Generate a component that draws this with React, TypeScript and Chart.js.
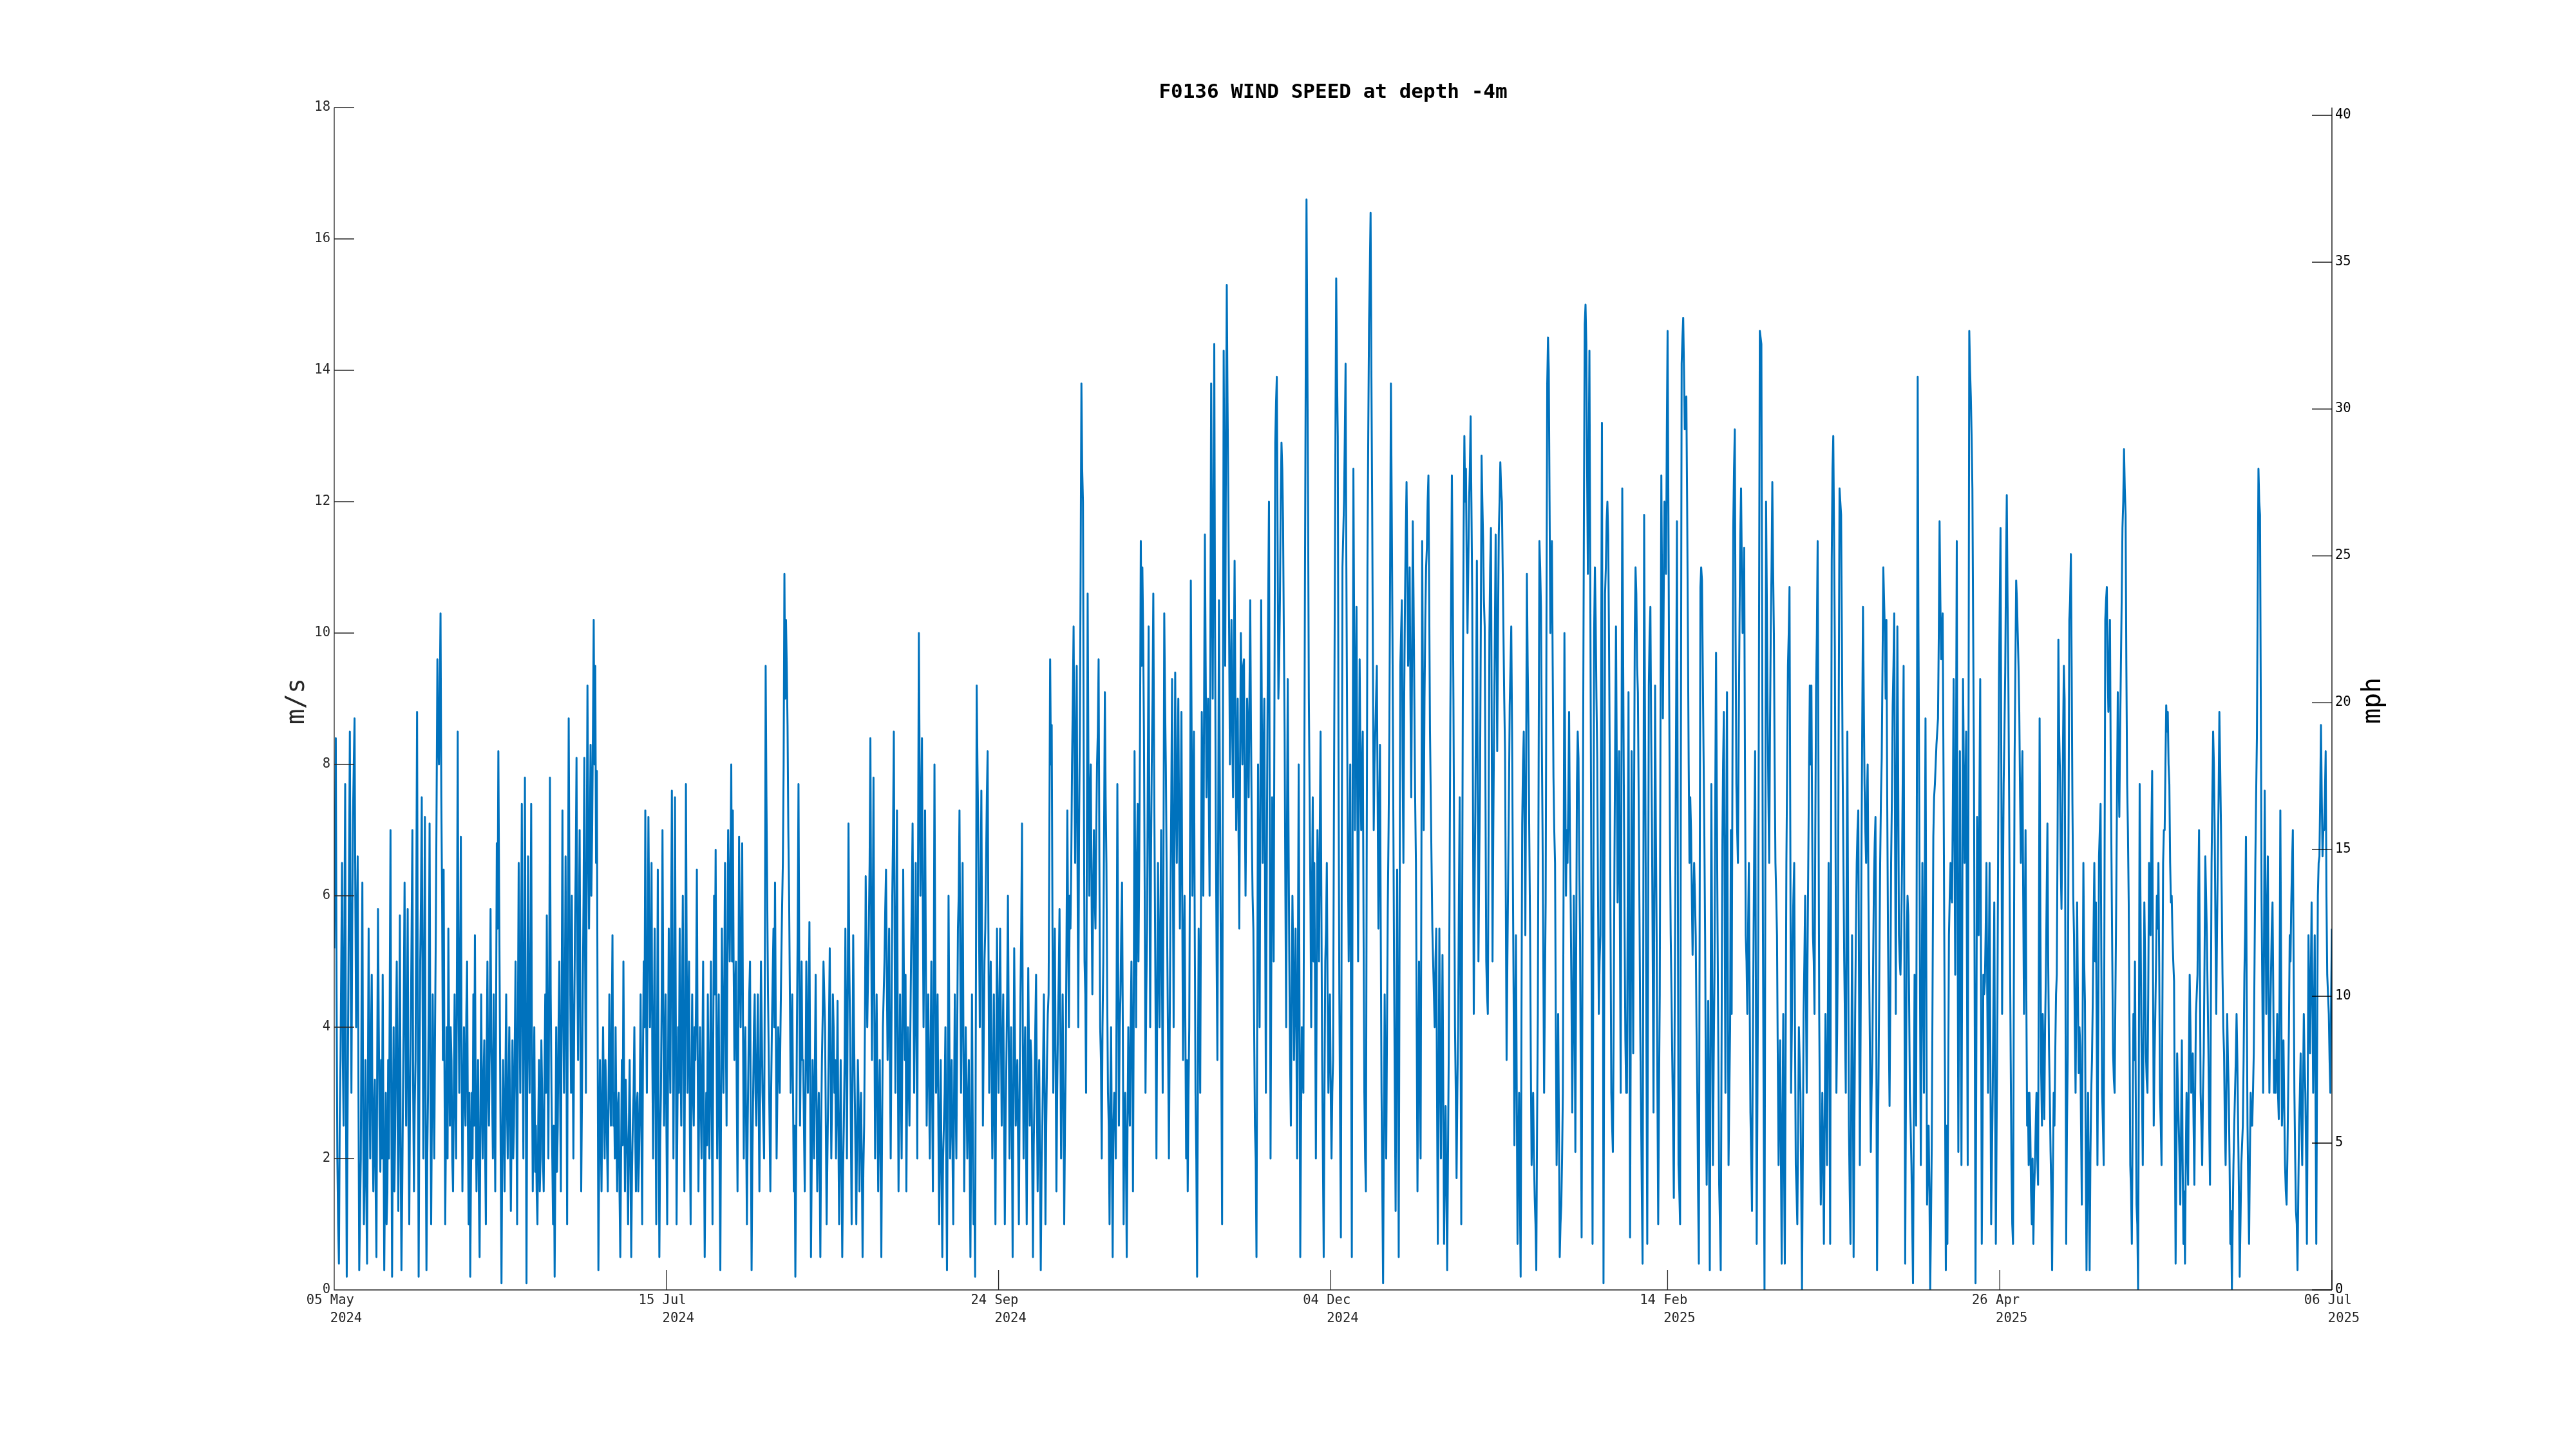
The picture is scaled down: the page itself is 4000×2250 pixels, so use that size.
import React, { useEffect, useRef } from 'react';
import { Chart, registerables } from 'chart.js';

Chart.register(...registerables);

const TITLE = 'F0136 WIND SPEED at depth -4m';
const Y_LABEL = 'm/s';
const Y2_LABEL = 'mph';
const TOTAL_DAYS = 427; // 05 May 2024 -> 06 Jul 2025
const X_TICK_DAYS = [0, 71, 142, 213, 285, 356, 427];
const X_TICK_LABELS = [
  ['05 May ', '   2024'],
  ['15 Jul ', '   2024'],
  ['24 Sep ', '   2024'],
  ['04 Dec ', '   2024'],
  ['14 Feb ', '   2025'],
  ['26 Apr ', '   2025'],
  ['06 Jul ', '   2025'],
];
const Y_TICKS = [0, 2, 4, 6, 8, 10, 12, 14, 16, 18];
const Y2_TICKS = [0, 5, 10, 15, 20, 25, 30, 35, 40];
const MPH_PER_MS = 1 / 0.44704;

// wind speed (m/s). Each block: start day, readings every 8 h (00/08/16 h),
// and the readings 4 h later (04/12/20 h).
const mayJunStart = 0;
const mayJun = [
  5.2, 8.4, 2.0, 0.4, 3.5, 6.5, 2.5, 7.7, 0.2, 4.5, 8.5, 3.0, 7.2, 8.7, 4.0,
  6.6, 0.3, 2.0, 6.2, 1.0, 3.5, 0.4, 5.5, 2.0, 4.8, 1.5, 3.2, 0.5, 5.8, 2.5,
  3.5, 4.8, 0.3, 3.0, 1.5, 2.0, 7.0, 0.2, 4.0, 2.5, 5.0, 1.2, 5.7, 0.3, 3.0,
  6.2, 2.5, 5.8, 1.0, 4.0, 7.0, 1.5, 3.5, 8.8, 0.2, 5.0, 7.5, 2.0, 7.2, 0.3,
  3.0, 7.1, 1.0, 4.5, 2.0, 5.5, 9.6, 8.0, 10.3, 6.0, 6.4, 1.0, 4.0, 5.5, 2.5,
  3.5, 1.5, 4.5, 2.0, 8.5, 3.0, 6.9, 1.5, 4.0, 2.5, 5.0, 1.0, 0.2, 3.0, 4.5,
  5.4, 1.5, 3.5, 0.5, 4.5, 2.0, 3.8, 1.0, 5.0, 2.5, 5.8, 3.0, 4.5, 1.5, 6.8,
  8.2, 4.0, 0.1, 3.5, 1.5, 4.5, 2.0, 4.0, 1.2, 3.8, 2.5, 5.0, 1.0, 6.5, 3.0,
  7.4, 2.0, 7.8, 0.1, 6.6, 3.0, 7.4, 1.5, 4.0, 2.5, 1.0, 3.5, 2.0, 3.0, 1.5,
  4.5, 5.7, 2.0, 7.8, 3.0, 1.0, 0.2, 4.0, 2.5, 5.0, 1.5, 7.3, 3.0, 6.6, 1.0,
];
const mayJunMid = [
  7.0, 4.5, 1.0, 2.5, 5.0, 3.5, 5.5, 3.0, 2.5, 6.5, 5.0, 5.5, 8.0, 6.0, 5.5,
  3.0, 1.2, 4.5, 2.5, 2.2, 1.5, 3.0, 3.5, 3.8, 2.5, 2.8, 1.5, 3.5, 4.0, 1.8,
  2.0, 2.5, 1.8, 1.0, 3.5, 4.5, 3.0, 2.5, 1.5, 4.0, 2.8, 3.5, 2.0, 1.5, 4.5,
  4.0, 4.2, 2.5, 3.0, 5.5, 3.0, 2.8, 6.0, 4.0, 3.0, 6.0, 4.5, 4.8, 2.5, 2.0,
  4.5, 3.5, 2.8, 3.0, 4.0, 7.5, 8.5, 9.0, 7.5, 3.5, 3.5, 2.5, 2.0, 3.8, 4.0,
  2.0, 3.0, 2.8, 5.0, 4.5, 4.8, 3.5, 2.8, 3.0, 4.2, 2.5, 3.0, 1.8, 2.0, 2.5,
  3.0, 2.8, 1.5, 2.5, 3.0, 3.2, 2.2, 3.5, 3.0, 4.0, 3.8, 2.0, 3.0, 4.0, 5.5,
  6.0, 2.0, 2.2, 2.5, 3.2, 2.8, 3.0, 2.5, 2.6, 2.0, 3.8, 3.0, 4.0, 4.5, 5.0,
  4.0, 5.0, 3.5, 3.5, 4.0, 5.0, 3.5, 3.0, 1.8, 1.5, 2.5, 1.5, 3.8, 2.0, 3.2,
  3.0, 3.5, 4.5, 4.5, 2.0, 2.5, 2.0, 1.8, 4.0, 3.0, 4.5, 4.5, 4.2, 4.0, 5.5,
];
const julAugStart = 50;
const julAug = [
  8.7, 4.5, 6.0, 2.0, 5.5, 8.1, 3.5, 7.0, 1.5, 4.5, 8.1, 3.0, 9.2, 5.5, 8.3,
  7.0, 10.2, 9.5, 7.9, 0.3, 3.5, 1.5, 4.0, 2.0, 3.0, 1.5, 4.5, 2.5, 5.4, 3.0,
  4.0, 1.5, 3.0, 0.5, 3.5, 5.0, 1.5, 2.5, 1.0, 3.5, 0.5, 2.5, 4.0, 1.5, 3.0,
  2.0, 4.5, 1.0, 5.0, 7.3, 3.0, 7.2, 4.0, 6.5, 2.0, 5.5, 1.0, 6.4, 0.5, 3.0,
  7.0, 2.5, 4.5, 1.0, 5.5, 3.0, 7.6, 2.0, 7.5, 1.0, 4.0, 5.5, 2.5, 6.0, 1.5,
  7.7, 3.0, 5.0, 1.0, 4.5, 2.5, 3.5, 6.4, 1.5, 4.0, 2.0, 5.0, 0.5, 3.0, 4.5,
  2.0, 5.0, 1.0, 6.0, 6.7, 2.0, 4.5, 0.3, 5.5, 3.0, 6.5, 2.5, 7.0, 5.0, 8.0,
  7.3, 3.5, 5.0, 1.5, 6.9, 4.0, 6.8, 2.0, 4.0, 1.0, 3.5, 5.0, 0.3, 3.0, 4.5,
  2.5, 4.5, 1.5, 5.0, 3.0, 2.0, 9.5, 6.0, 3.5, 1.5, 4.0, 5.5, 6.2, 2.0, 4.0,
  3.0, 5.0, 6.5, 10.9, 10.2, 8.6, 6.0, 3.0, 4.5, 1.5, 0.2, 4.0, 7.7, 2.5, 5.0,
  3.5, 1.5, 5.0, 3.0, 5.6, 0.5, 3.5, 2.0, 4.8, 1.5, 3.0, 0.5, 3.5, 5.0, 4.0,
  1.0, 3.0, 5.2, 2.0, 4.5, 3.0,
];
const julAugMid = [
  6.0, 3.0, 3.8, 4.0, 6.5, 5.0, 5.5, 4.0, 3.0, 6.0, 5.0, 6.5, 7.0, 6.8, 6.0,
  8.5, 8.0, 6.5, 4.0, 2.0, 2.5, 3.0, 2.8, 3.5, 2.2, 3.0, 3.2, 4.0, 2.5, 2.0,
  2.5, 2.8, 1.5, 2.0, 2.2, 3.0, 3.2, 2.0, 2.5, 2.0, 1.8, 3.0, 2.5, 2.8, 1.5,
  3.0, 2.5, 3.5, 4.0, 4.5, 5.0, 5.5, 5.0, 3.5, 4.0, 3.0, 3.5, 3.0, 2.2, 4.5,
  4.5, 3.5, 2.5, 3.0, 4.0, 5.5, 4.5, 4.0, 4.2, 2.5, 3.0, 3.8, 4.5, 3.5, 4.0,
  5.0, 4.2, 2.5, 3.2, 3.0, 4.0, 4.5, 3.5, 3.0, 2.8, 3.5, 2.5, 2.0, 2.2, 3.0,
  3.5, 2.8, 4.0, 4.5, 4.0, 3.5, 2.0, 3.0, 4.0, 4.5, 4.0, 5.0, 6.0, 6.5, 5.0,
  5.0, 4.5, 3.0, 4.0, 5.0, 5.5, 4.0, 3.5, 2.5, 2.5, 4.5, 2.5, 2.0, 4.0, 3.0,
  3.5, 3.0, 3.2, 4.0, 2.5, 5.0, 7.5, 4.5, 2.5, 3.0, 4.8, 4.0, 4.0, 3.0, 3.5,
  4.0, 5.8, 8.0, 9.0, 9.5, 7.0, 4.5, 3.8, 3.0, 2.5, 2.0, 5.5, 5.0, 3.8, 3.5,
  2.5, 3.0, 4.0, 4.2, 3.0, 2.0, 2.8, 3.5, 3.0, 2.2, 2.0, 2.5, 4.2, 4.5, 2.5,
  2.0, 4.0, 3.5, 3.0, 4.0, 3.5,
];
const sepOctStart = 107;
const sepOct = [
  2.0, 4.4, 1.0, 3.5, 0.5, 2.5, 5.5, 2.0, 7.1, 4.0, 1.0, 5.4, 3.0, 1.0, 3.5,
  1.5, 3.0, 0.5, 2.5, 6.3, 4.0, 5.5, 8.4, 3.5, 7.8, 2.0, 4.5, 1.5, 3.5, 0.5,
  4.0, 5.0, 6.4, 3.5, 5.5, 2.0, 6.0, 8.5, 3.0, 7.3, 1.5, 4.5, 2.0, 6.4, 3.5,
  1.5, 4.0, 2.5, 5.0, 7.1, 3.0, 6.5, 2.0, 10.0, 6.0, 8.4, 4.0, 7.3, 2.5, 4.5,
  2.0, 5.0, 1.5, 8.0, 3.0, 4.5, 1.0, 3.5, 0.5, 2.5, 4.0, 0.3, 6.0, 2.0, 3.5,
  1.0, 4.5, 2.0, 5.5, 7.3, 3.0, 6.5, 1.5, 4.0, 2.0, 3.5, 0.5, 4.5, 1.0, 0.2,
  9.2, 7.0, 4.0, 7.6, 2.5, 5.0, 6.5, 8.2, 3.0, 5.0, 2.0, 4.5, 1.0, 5.5, 3.0,
  5.5, 2.5, 4.5, 1.0, 3.5, 6.0, 2.0, 4.0, 0.5, 5.2, 2.5, 3.5, 1.0, 4.5, 7.1,
  2.0, 4.0, 1.0, 4.9, 2.5, 3.5, 0.5, 3.0, 4.8, 1.5, 3.5, 0.3, 2.5, 4.5, 1.0,
  3.5, 4.5, 9.6, 8.6, 3.0, 5.5, 1.5, 4.0, 5.8, 2.0, 4.5, 1.0, 3.5, 7.3, 4.0,
];
const sepOctMid = [
  3.0, 2.5, 2.2, 2.0, 1.8, 3.5, 3.8, 4.5, 5.0, 2.5, 3.0, 4.0, 2.0, 2.5, 2.8,
  2.5, 2.0, 1.8, 4.0, 5.0, 4.8, 6.5, 5.5, 5.5, 4.5, 3.2, 3.0, 2.8, 2.0, 2.5,
  4.5, 5.8, 4.8, 4.5, 3.5, 4.0, 7.0, 5.5, 5.0, 4.0, 3.0, 3.2, 4.0, 4.5, 4.8,
  3.0, 3.2, 3.8, 6.0, 5.0, 4.5, 4.0, 6.5, 8.0, 7.0, 6.0, 5.5, 5.0, 3.5, 3.2,
  3.5, 3.0, 4.5, 5.0, 3.5, 2.5, 2.5, 1.8, 2.0, 3.0, 2.0, 3.0, 4.0, 2.8, 2.2,
  2.8, 3.0, 3.8, 6.0, 5.0, 4.5, 4.0, 2.8, 3.0, 2.8, 2.0, 2.5, 2.5, 1.5, 4.5,
  8.0, 5.5, 6.0, 5.0, 3.8, 5.5, 7.5, 5.5, 4.0, 3.5, 3.0, 2.5, 3.5, 4.0, 4.2,
  4.0, 3.5, 2.8, 2.5, 4.5, 4.0, 3.0, 2.5, 3.0, 3.8, 3.0, 2.2, 3.0, 5.5, 4.0,
  3.2, 2.5, 3.0, 3.5, 3.8, 2.0, 2.2, 4.0, 3.0, 2.8, 2.0, 1.8, 3.5, 3.0, 2.5,
  4.2, 7.0, 8.0, 5.5, 4.5, 3.5, 3.0, 4.8, 4.0, 3.2, 3.0, 2.5, 5.5, 5.5, 6.0,
];
const octDecStart = 157;
const octDec = [
  5.5, 8.0, 10.1, 6.5, 9.5, 4.0, 8.5, 13.8, 12.0, 5.0, 3.0, 10.6, 6.0, 8.0, 4.5,
  7.0, 5.5, 8.0, 9.6, 4.0, 2.0, 5.0, 9.1, 6.5, 3.0, 1.0, 4.0, 0.5, 3.0, 2.0,
  7.7, 2.5, 4.5, 6.2, 1.0, 3.0, 0.5, 4.0, 2.5, 5.0, 1.5, 8.2, 4.0, 7.4, 6.5,
  11.4, 11.0, 8.5, 3.0, 5.5, 10.1, 4.0, 8.0, 10.6, 6.0, 2.0, 6.5, 4.0, 7.0, 3.0,
  10.3, 8.0, 5.0, 2.0, 6.0, 9.3, 4.0, 9.4, 6.5, 9.0, 5.5, 8.8, 3.5, 6.0, 2.0,
  1.5, 4.0, 10.8, 6.0, 8.5, 3.0, 0.2, 5.5, 3.0, 8.8, 6.0, 11.5, 7.5, 9.0, 6.0,
  13.8, 9.0, 14.4, 7.0, 3.5, 10.5, 6.0, 1.0, 14.3, 9.5, 15.3, 12.0, 8.0, 10.2, 7.5,
  11.1, 7.0, 9.0, 5.5, 10.0, 8.0, 9.6, 6.0, 9.0, 7.5, 10.5, 7.0, 5.5, 2.5, 0.5,
  8.0, 4.0, 10.5, 6.5, 9.0, 3.0, 8.5, 12.0, 2.0, 7.5, 5.0, 12.9, 13.9, 9.0, 10.5,
  12.9, 11.7, 8.5, 4.0, 9.3, 5.0, 2.5, 6.0, 3.5, 5.5, 2.0, 8.0, 0.5, 4.0, 3.0,
  10.7, 16.6, 12.0, 7.5, 4.0, 7.5, 6.5, 2.0, 7.0, 5.0, 8.5, 3.5, 0.5, 5.0, 6.5,
  3.0, 4.5, 2.0,
];
const octDecMid = [
  6.5, 9.0, 8.0, 8.5, 6.5, 7.0, 11.0, 12.5, 8.0, 4.5, 7.0, 8.0, 7.5, 6.0, 6.0,
  6.0, 7.0, 8.5, 6.5, 3.5, 4.0, 7.0, 7.5, 4.5, 2.5, 3.0, 2.0, 2.5, 2.8, 4.5,
  5.0, 4.0, 5.5, 4.0, 2.5, 2.0, 2.5, 3.0, 4.0, 3.5, 4.5, 6.0, 6.5, 5.0, 8.5,
  9.5, 10.0, 6.0, 4.5, 8.0, 7.0, 6.5, 9.0, 8.0, 4.0, 4.5, 5.0, 5.5, 5.0, 6.5,
  9.0, 6.5, 3.5, 4.0, 7.5, 6.5, 7.0, 7.5, 8.0, 7.0, 7.0, 6.0, 5.0, 4.0, 3.5,
  3.0, 7.0, 8.5, 7.5, 5.5, 2.0, 3.0, 4.5, 6.0, 7.5, 9.0, 9.5, 8.5, 7.5, 10.0,
  11.0, 12.0, 10.0, 5.0, 7.0, 8.0, 3.5, 8.0, 12.0, 13.0, 13.5, 10.0, 9.0, 8.5, 9.5,
  9.0, 8.0, 7.0, 8.0, 9.0, 9.5, 7.5, 7.5, 8.5, 9.0, 8.5, 6.0, 4.0, 2.0, 4.5,
  6.0, 7.5, 8.5, 8.0, 6.0, 6.0, 10.5, 7.0, 5.0, 6.5, 9.0, 13.5, 11.5, 9.5, 12.0,
  12.5, 10.0, 6.0, 7.0, 7.0, 3.5, 4.5, 5.0, 4.5, 4.0, 5.0, 4.5, 2.5, 3.5, 7.0,
  14.0, 14.5, 9.0, 6.0, 6.0, 5.0, 4.5, 4.5, 6.0, 7.0, 6.0, 2.0, 3.0, 5.5, 4.5,
  4.0, 3.0, 3.0,
];
const decJanStart = 213;
const decJan = [
  3.5, 10.0, 15.4, 13.0, 4.5, 0.8, 11.0, 12.0, 14.1, 8.5, 5.0, 8.0, 0.5, 12.5, 7.0,
  10.4, 5.0, 9.6, 7.0, 8.5, 3.0, 1.5, 11.0, 14.7, 16.4, 12.0, 7.0, 8.5, 9.5, 5.5,
  8.3, 3.0, 0.1, 4.5, 2.0, 5.8, 8.5, 13.8, 10.0, 5.0, 1.2, 6.4, 0.5, 9.5, 10.5,
  6.5, 10.5, 12.3, 9.5, 11.0, 7.5, 11.7, 9.0, 6.5, 1.5, 5.0, 2.0, 11.4, 7.0, 10.2,
  11.3, 12.4, 8.5, 6.5, 5.0, 4.0, 5.5, 0.7, 5.5, 2.0, 5.1, 0.7, 2.8, 0.3, 3.6,
  8.7, 12.4, 9.0, 4.0, 1.7, 4.0, 7.5, 1.0, 9.0, 13.0, 12.5, 10.0, 12.0, 13.3, 10.6,
  4.2, 7.3, 11.1, 5.0, 7.7, 12.7, 11.4, 10.1, 5.0, 4.2, 10.0, 11.6, 5.0, 8.6, 11.5,
  8.2, 11.5, 12.6, 12.0, 10.0, 8.2, 3.5, 6.3, 8.9, 10.1, 6.4, 2.2, 5.4, 0.7, 3.0,
  0.2, 7.1, 8.5, 5.4, 10.9, 8.6, 5.6, 1.9, 3.0, 1.4, 0.3, 4.2, 11.4, 10.4, 7.0,
  3.0, 5.9, 13.8, 14.0, 10.0, 11.4, 7.8, 6.5, 1.9, 4.2, 0.5, 1.3, 3.0, 10.0, 6.0,
];
const decJanMid = [
  7.0, 13.0, 14.0, 8.0, 2.5, 6.0, 11.5, 13.0, 11.0, 6.5, 6.5, 4.0, 7.0, 10.0, 9.0,
  7.5, 7.5, 8.0, 8.0, 5.5, 2.0, 6.5, 13.0, 15.5, 14.0, 9.5, 8.0, 9.0, 7.5, 7.0,
  5.5, 1.5, 2.5, 3.0, 4.0, 7.0, 11.0, 12.0, 7.5, 3.0, 4.0, 3.5, 5.0, 10.0, 8.0,
  9.0, 11.5, 11.0, 10.0, 9.0, 9.5, 10.5, 7.5, 4.0, 3.5, 3.0, 6.5, 9.0, 9.0, 11.0,
  12.0, 10.5, 7.5, 5.5, 4.5, 5.0, 3.0, 3.0, 3.5, 3.5, 3.0, 2.0, 1.5, 2.0, 6.0,
  10.5, 11.0, 6.5, 3.0, 3.0, 6.0, 4.5, 5.0, 11.5, 12.0, 11.0, 11.0, 12.5, 12.0, 7.5,
  6.0, 9.0, 8.0, 6.5, 10.0, 12.0, 10.5, 7.5, 4.5, 7.0, 11.0, 8.5, 7.0, 10.0, 10.0,
  10.0, 12.0, 12.2, 11.0, 9.0, 6.0, 5.0, 7.5, 9.5, 8.5, 4.5, 4.0, 3.0, 2.0, 1.5,
  4.0, 8.0, 7.0, 8.0, 9.5, 7.0, 3.5, 2.5, 2.0, 1.0, 2.5, 8.0, 11.0, 8.5, 5.0,
  4.5, 10.0, 14.5, 12.0, 11.0, 9.5, 7.0, 4.0, 3.0, 2.5, 1.0, 2.0, 6.5, 8.0, 7.0,
];
const janMarStart = 263;
const janMar = [
  6.5, 8.8, 5.9, 2.7, 6.0, 2.1, 7.7, 8.1, 5.4, 0.8, 8.6, 14.7, 14.4, 10.9, 14.3,
  7.7, 0.7, 10.0, 10.2, 8.1, 4.2, 5.4, 13.2, 0.1, 10.6, 11.7, 11.5, 8.1, 3.0, 2.1,
  6.5, 10.1, 5.9, 8.2, 3.0, 12.2, 7.7, 3.8, 3.0, 9.1, 0.8, 8.2, 3.6, 10.0, 10.6,
  9.1, 5.8, 2.8, 0.4, 11.8, 6.5, 0.7, 9.2, 10.4, 7.1, 2.7, 9.2, 5.4, 1.0, 4.5,
  12.4, 8.7, 12.0, 10.9, 14.6, 9.2, 5.4, 3.5, 1.4, 6.5, 11.7, 1.9, 1.0, 14.1, 14.8,
  13.1, 13.6, 10.0, 6.5, 7.0, 5.1, 6.5, 5.4, 3.0, 0.4, 10.7, 10.8, 8.2, 5.4, 1.6,
  4.4, 0.3, 7.7, 1.9, 4.8, 9.7, 5.4, 1.6, 0.3, 6.7, 8.8, 3.0, 9.1, 1.9, 4.0,
  4.2, 11.6, 13.1, 7.7, 6.5, 10.1, 12.2, 10.0, 11.3, 5.4, 4.2, 6.5, 2.7, 1.2, 5.4,
  8.2, 0.7, 5.4, 14.6, 14.4, 5.4, 0.0, 12.0, 8.8, 6.5, 10.0, 12.3, 10.0, 6.5, 5.4,
  1.9, 3.8, 0.4, 4.2, 0.4, 6.5, 9.5, 10.7, 3.0, 5.4, 6.5, 1.9, 1.0, 4.0, 3.0,
  0.0, 4.2, 6.0, 3.0, 6.5, 9.2, 9.2, 5.4, 4.2, 9.2, 11.4, 4.2, 1.3, 3.0, 0.7,
  4.2, 1.9, 6.5,
];
const janMarMid = [
  7.5, 7.0, 4.5, 4.0, 4.5, 5.0, 8.5, 6.5, 3.0, 4.5, 12.0, 15.0, 12.5, 12.5, 11.0,
  4.0, 5.5, 11.0, 9.0, 6.0, 5.0, 9.5, 7.0, 5.0, 11.0, 12.0, 10.0, 5.5, 2.5, 4.0,
  8.5, 8.0, 7.0, 5.5, 8.0, 10.0, 5.5, 3.0, 6.0, 5.0, 4.5, 6.0, 7.0, 11.0, 9.5,
  7.5, 4.0, 1.5, 6.0, 9.0, 3.5, 5.0, 10.0, 8.5, 5.0, 6.0, 7.0, 3.0, 3.0, 9.0,
  10.5, 10.5, 11.5, 13.0, 12.0, 7.0, 4.5, 2.5, 4.0, 9.0, 7.0, 1.5, 8.0, 14.5, 14.0,
  13.5, 12.0, 8.0, 7.5, 6.0, 6.0, 6.0, 4.0, 1.5, 5.5, 11.0, 9.5, 7.0, 3.0, 3.0,
  2.0, 4.0, 5.0, 3.5, 7.5, 7.5, 3.5, 1.0, 3.5, 8.0, 6.0, 6.5, 5.0, 3.0, 7.0,
  8.0, 12.5, 10.0, 7.0, 8.5, 11.5, 11.0, 10.5, 8.0, 5.0, 5.5, 4.5, 2.0, 3.5, 7.0,
  4.5, 3.0, 10.0, 14.5, 10.0, 2.5, 6.0, 10.5, 7.5, 8.5, 11.0, 11.0, 8.0, 6.0, 3.5,
  3.0, 2.0, 2.5, 2.0, 3.5, 8.0, 10.0, 7.0, 4.0, 6.0, 4.0, 1.5, 2.5, 3.5, 1.5,
  2.0, 5.0, 4.5, 5.0, 8.0, 8.0, 7.0, 5.0, 7.0, 10.0, 8.0, 2.5, 2.0, 2.0, 2.5,
  3.0, 4.0, 4.0,
];
const marMayStart = 319;
const marMay = [
  0.7, 11.1, 13.0, 9.8, 3.0, 5.4, 12.2, 11.8, 7.9, 5.0, 3.0, 8.5, 2.5, 0.7, 5.4,
  0.5, 4.2, 6.5, 7.3, 1.9, 6.5, 10.4, 7.7, 6.5, 8.0, 4.8, 2.1, 3.6, 6.2, 7.2,
  0.3, 3.4, 6.5, 8.1, 11.0, 10.0, 10.2, 5.4, 2.8, 6.5, 8.9, 10.3, 4.2, 10.1, 5.4,
  4.8, 6.5, 9.5, 0.4, 5.4, 5.7, 3.0, 1.9, 0.1, 4.8, 2.5, 13.9, 7.4, 1.9, 6.5,
  3.0, 8.7, 1.3, 2.5, 0.0, 2.2, 6.9, 7.7, 8.3, 8.7, 11.7, 9.6, 10.3, 5.4, 0.3,
  0.7, 5.4, 6.5, 5.9, 9.3, 4.8, 11.4, 2.1, 8.2, 1.9, 9.3, 6.5, 8.5, 1.9, 14.6,
  13.6, 12.2, 7.9, 0.1, 7.2, 5.4, 9.3, 0.7, 4.8, 4.7, 6.5, 3.0, 6.5, 1.0, 3.0,
  5.9, 0.7, 4.2, 9.3, 11.6, 4.2, 7.7, 9.4, 12.1, 9.3, 5.4, 1.9, 0.7, 8.1, 10.8,
  10.0, 8.8, 6.5, 8.2, 4.2, 7.0, 2.5, 1.9, 2.5, 1.0, 0.7, 1.9, 3.0, 1.6, 8.7,
  3.3, 4.2, 2.6, 4.8, 7.1, 3.7, 2.1, 0.3, 3.0, 3.6, 4.8, 9.9, 7.9, 5.8, 8.4,
];
const marMayMid = [
  6.0, 12.5, 11.5, 6.5, 4.0, 9.0, 12.0, 10.0, 6.5, 4.0, 6.0, 5.5, 1.5, 3.0, 3.5,
  2.5, 5.5, 7.0, 4.5, 4.0, 8.5, 9.0, 7.0, 7.5, 6.0, 3.5, 3.0, 5.0, 6.8, 4.0,
  2.0, 5.0, 7.5, 9.5, 10.5, 9.0, 7.5, 4.0, 4.5, 7.5, 9.5, 7.0, 7.5, 8.0, 5.0,
  5.5, 8.0, 5.0, 3.0, 6.0, 4.5, 2.5, 1.0, 2.5, 3.5, 8.0, 10.0, 4.5, 4.0, 5.0,
  6.0, 5.0, 2.0, 1.5, 1.0, 4.5, 7.5, 8.0, 8.5, 10.0, 10.5, 10.0, 8.0, 3.0, 2.5,
  3.0, 6.0, 6.0, 7.5, 7.0, 8.0, 6.0, 5.0, 5.0, 5.5, 8.0, 7.5, 5.0, 8.0, 14.0,
  13.0, 10.0, 4.0, 3.5, 6.5, 7.5, 5.0, 2.5, 4.5, 5.5, 4.5, 5.0, 3.5, 2.0, 4.5,
  3.0, 2.5, 7.0, 10.5, 8.0, 6.0, 8.5, 11.0, 10.5, 7.5, 3.5, 1.0, 4.5, 9.5, 10.5,
  9.5, 7.5, 7.5, 6.0, 5.5, 4.5, 3.0, 3.0, 1.5, 2.0, 1.5, 2.5, 2.0, 5.0, 5.5,
  2.5, 3.5, 4.0, 6.0, 5.0, 3.0, 1.5, 1.8, 2.5, 4.5, 7.0, 8.5, 6.5, 7.0, 9.5,
];
const mayJulStart = 369;
const mayJul = [
  9.0, 0.7, 3.6, 10.2, 11.2, 7.4, 5.4, 3.0, 5.9, 3.3, 3.7, 1.3, 6.5, 4.4, 0.3,
  3.0, 0.3, 3.0, 4.4, 6.5, 5.9, 1.9, 6.6, 7.4, 3.0, 1.9, 10.2, 10.7, 8.8, 10.2,
  6.5, 3.6, 3.0, 5.9, 9.1, 7.2, 9.5, 11.6, 12.8, 11.8, 7.7, 5.9, 1.9, 0.7, 4.2,
  5.0, 1.3, 0.0, 7.7, 4.2, 1.9, 5.9, 3.6, 3.0, 6.5, 5.4, 7.9, 2.5, 4.2, 6.0,
  6.5, 3.0, 1.9, 6.5, 7.0, 8.9, 8.8, 7.7, 5.9, 5.4, 4.7, 0.4, 3.6, 2.5, 1.3,
  3.8, 0.7, 0.4, 3.0, 1.6, 4.8, 3.0, 3.6, 1.6, 4.2, 4.8, 7.0, 3.0, 1.9, 3.6,
  6.6, 5.4, 3.6, 1.6, 6.5, 8.5, 7.0, 4.2, 6.5, 8.8, 7.1, 4.8, 3.6, 1.9, 4.2,
  3.0, 0.7, 0.0, 1.9, 3.0, 4.2, 2.5, 0.2, 1.9, 2.5, 4.8, 6.9, 2.5, 0.7, 3.0,
  2.5, 3.6, 6.5, 8.4, 12.5, 11.8, 5.9, 3.0, 7.6, 4.2, 6.6, 3.0, 4.8, 5.9, 3.0,
  3.0, 4.2, 2.6, 7.3, 2.5, 3.8, 1.9, 1.3, 3.0, 5.4, 5.9, 7.0, 3.0, 1.2, 0.3,
  2.5, 3.6, 1.9, 4.2, 3.0, 0.7, 5.4, 3.6, 5.9, 3.0, 5.4, 0.7, 6.0, 6.6, 8.6,
  6.6, 7.0, 8.2, 4.8, 4.2, 3.0, 5.5,
];
const mayJulMid = [
  5.0, 2.5, 7.0, 10.5, 9.5, 6.0, 4.0, 4.5, 4.5, 4.0, 2.5, 4.0, 5.0, 2.0, 2.0,
  1.5, 2.0, 3.5, 5.5, 5.0, 4.0, 4.0, 7.0, 5.0, 2.5, 6.0, 10.5, 9.5, 9.5, 8.0,
  5.0, 3.2, 4.5, 7.5, 8.0, 8.5, 10.5, 12.0, 12.2, 9.5, 7.0, 4.0, 1.5, 2.5, 3.5,
  3.0, 1.0, 3.5, 6.0, 3.0, 4.0, 5.0, 3.2, 4.5, 6.0, 7.0, 5.0, 3.5, 5.0, 5.5,
  5.0, 2.5, 4.0, 7.0, 8.0, 8.5, 8.0, 6.5, 6.0, 5.0, 2.5, 2.0, 3.0, 2.0, 2.5,
  2.0, 1.5, 2.0, 2.2, 3.5, 4.0, 3.2, 2.5, 3.0, 4.5, 6.0, 5.0, 2.5, 3.0, 5.0,
  6.0, 4.5, 2.5, 4.0, 7.5, 8.0, 5.5, 5.5, 7.5, 8.0, 6.0, 4.0, 2.5, 3.0, 3.5,
  2.0, 1.2, 1.0, 2.5, 3.5, 3.5, 1.5, 1.0, 2.2, 3.5, 5.5, 4.5, 1.5, 2.0, 2.5,
  3.0, 5.0, 7.5, 10.5, 12.0, 9.0, 4.5, 5.0, 6.0, 5.5, 4.5, 4.0, 5.5, 4.5, 3.5,
  3.5, 3.0, 4.5, 5.0, 3.0, 2.8, 1.5, 2.0, 4.0, 5.0, 6.5, 5.0, 2.0, 1.0, 1.5,
  3.0, 2.5, 3.0, 3.5, 2.0, 3.0, 4.5, 4.8, 4.5, 4.0, 3.0, 3.5, 6.5, 7.5, 7.5,
  7.0, 7.5, 6.0, 4.5, 3.5, 4.5,
];

const BLOCKS: [number, number[], number[]][] = [
  [mayJunStart, mayJun, mayJunMid],
  [julAugStart, julAug, julAugMid],
  [sepOctStart, sepOct, sepOctMid],
  [octDecStart, octDec, octDecMid],
  [decJanStart, decJan, decJanMid],
  [janMarStart, janMar, janMarMid],
  [marMayStart, marMay, marMayMid],
  [mayJulStart, mayJul, mayJulMid],
];

const DAY_SCALE = TOTAL_DAYS / 426;

function buildPoints() {
  const pts: { x: number; y: number }[] = [];
  for (const [start, vals, mids] of BLOCKS) {
    vals.forEach((v, i) => {
      pts.push({ x: Math.min(TOTAL_DAYS, (start + i / 3) * DAY_SCALE), y: v });
      if (i < mids.length) {
        pts.push({ x: Math.min(TOTAL_DAYS, (start + i / 3 + 1 / 6) * DAY_SCALE), y: mids[i] });
      }
    });
  }
  return pts;
}

const MONO = '"DejaVu Sans Mono", monospace';

const decorPlugin = {
  id: 'decor',
  afterDraw(chart: any) {
    const { ctx, chartArea: a, scales } = chart;
    const xs = scales.x;
    const ys = scales.y;
    const y2s = scales.y2;
    const TL = 31;
    ctx.save();
    ctx.lineWidth = 1.3;
    ctx.strokeStyle = '#262626';
    ctx.beginPath();
    ctx.moveTo(a.left, a.top);
    ctx.lineTo(a.left, a.bottom);
    ctx.lineTo(a.right, a.bottom);
    for (const t of Y_TICKS) {
      const p = ys.getPixelForValue(t);
      ctx.moveTo(a.left, p);
      ctx.lineTo(a.left + TL, p);
    }
    for (const t of X_TICK_DAYS) {
      const p = xs.getPixelForValue(t);
      ctx.moveTo(p, a.bottom);
      ctx.lineTo(p, a.bottom - TL);
    }
    ctx.stroke();
    ctx.strokeStyle = '#000';
    ctx.beginPath();
    ctx.moveTo(a.right, a.top);
    ctx.lineTo(a.right, a.bottom);
    for (const t of Y2_TICKS) {
      const p = y2s.getPixelForValue(t);
      ctx.moveTo(a.right, p);
      ctx.lineTo(a.right - TL, p);
    }
    ctx.stroke();

    ctx.fillStyle = '#000';
    ctx.font = 'bold 31px ' + MONO;
    ctx.textAlign = 'center';
    ctx.textBaseline = 'alphabetic';
    ctx.fillText(TITLE, (a.left + a.right) / 2, 152);

    ctx.font = '40px ' + MONO;
    ctx.fillStyle = '#262626';
    ctx.save();
    ctx.translate(472, (a.top + a.bottom) / 2 + 4);
    ctx.rotate(-Math.PI / 2);
    ctx.fillText(Y_LABEL, 0, 0);
    ctx.restore();
    ctx.fillStyle = '#000';
    ctx.save();
    ctx.translate(3696, (a.top + a.bottom) / 2 + 3);
    ctx.rotate(-Math.PI / 2);
    ctx.fillText(Y2_LABEL, 0, 0);
    ctx.restore();
    ctx.restore();
  },
};

export default function App() {
  const ref = useRef<HTMLCanvasElement | null>(null);
  useEffect(() => {
    if (!ref.current) return;
    const tickFont = { family: MONO, size: 20.5, lineHeight: 1.36 };
    const chart = new Chart(ref.current, {
      type: 'line',
      data: {
        datasets: [
          {
            data: buildPoints(),
            borderColor: '#0072BD',
            borderWidth: 3.0,
            borderJoinStyle: 'round',
            pointRadius: 0,
            tension: 0,
            fill: false,
          },
        ],
      },
      options: {
        responsive: false,
        animation: false,
        devicePixelRatio: 1,
        parsing: false,
        normalized: true,
        events: [],
        layout: { padding: { top: 167, left: 0, right: 0, bottom: 0 } },
        plugins: {
          legend: { display: false },
          title: { display: false },
          tooltip: { enabled: false },
        },
        scales: {
          x: {
            type: 'linear',
            position: 'bottom',
            min: 0,
            max: TOTAL_DAYS,
            grid: { display: false, drawTicks: false, tickLength: 0 },
            border: { display: false },
            afterBuildTicks: (s: any) => {
              s.ticks = X_TICK_DAYS.map((v) => ({ value: v }));
            },
            afterFit: (s: any) => {
              s.height = 247;
            },
            ticks: {
              autoSkip: false,
              maxRotation: 0,
              minRotation: 0,
              padding: 3,
              color: '#262626',
              font: tickFont,
              callback: (v: any) => {
                const i = X_TICK_DAYS.indexOf(Number(v));
                return i >= 0 ? X_TICK_LABELS[i] : '';
              },
            },
          },
          y: {
            type: 'linear',
            position: 'left',
            min: 0,
            max: 18,
            grid: { display: false, drawTicks: false, tickLength: 0 },
            border: { display: false },
            afterBuildTicks: (s: any) => {
              s.ticks = Y_TICKS.map((v) => ({ value: v }));
            },
            afterFit: (s: any) => {
              s.width = 519;
            },
            ticks: { padding: 6, color: '#262626', font: tickFont },
          },
          y2: {
            type: 'linear',
            position: 'right',
            min: 0,
            max: 18 * MPH_PER_MS,
            grid: { display: false, drawTicks: false, tickLength: 0 },
            border: { display: false },
            afterBuildTicks: (s: any) => {
              s.ticks = Y2_TICKS.map((v) => ({ value: v }));
            },
            afterFit: (s: any) => {
              s.width = 379;
            },
            ticks: { padding: 5, color: '#000', font: tickFont },
          },
        },
      },
      plugins: [decorPlugin],
    } as any);
    return () => chart.destroy();
  }, []);
  return (
    <div style={{ position: 'fixed', left: 0, top: 0, width: 4000, height: 2250, background: '#fff' }}>
      <canvas ref={ref} width={4000} height={2250} style={{ display: 'block' }} />
    </div>
  );
}
